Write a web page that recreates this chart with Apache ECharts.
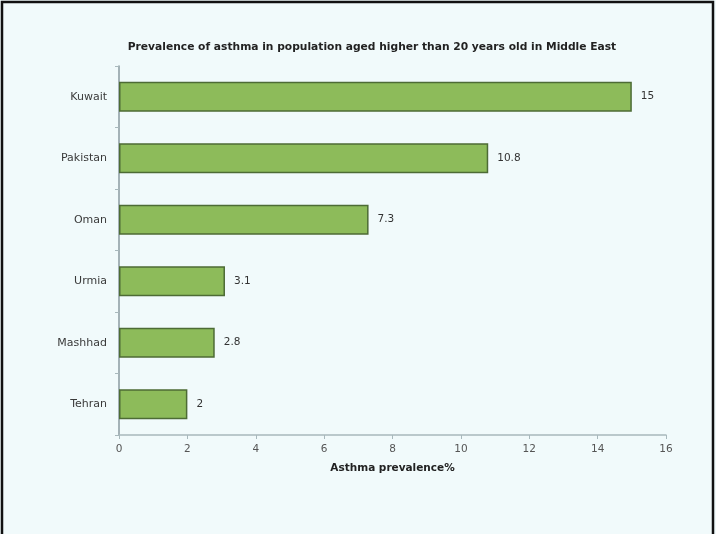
<!DOCTYPE html>
<html><head><meta charset="utf-8">
<script src="https://cdn.jsdelivr.net/npm/echarts@6/dist/echarts.min.js"></script>
<style>html,body{margin:0;padding:0;background:#f1fafb;}#c{width:716px;height:534px;}</style>
</head><body><div id="c"></div>
<script>
const categories = ['Tehran', 'Mashhad', 'Urmia', 'Oman', 'Pakistan', 'Kuwait'];
const values = [2, 2.8, 3.1, 7.3, 10.8, 15];
const xTicks = [0, 2, 4, 6, 8, 10, 12, 14, 16];

const chart = echarts.init(document.getElementById('c'), null, {renderer: 'canvas'});
chart.setOption({
  backgroundColor: '#f1fafb',
  animation: false,
  title: {
    text: 'Prevalence of asthma in population aged higher than 20 years old in Middle East',
    left: 367, top: 37, textAlign: 'center',
    textStyle: {fontFamily: 'DejaVu Sans', fontSize: 10.7, fontWeight: 'bold', color: '#222'}
  },
  graphic: [{
    type: 'polyline', silent: true,
    shape: {points: [[2, 534], [2, 2], [713, 2], [713, 534]]},
    style: {stroke: '#111', lineWidth: 2.5, fill: null}
  }],
  grid: {left: 119, top: 66, width: 547, height: 369, containLabel: false},
  xAxis: {
    type: 'value', min: xTicks[0], max: xTicks[xTicks.length - 1], interval: 2,
    name: 'Asthma prevalence%', nameLocation: 'middle', nameGap: 28,
    nameTextStyle: {fontFamily: 'DejaVu Sans', fontSize: 10.5, fontWeight: 'bold', color: '#222'},
    axisLine: {show: true, lineStyle: {color: '#a8b8bc', width: 1.5}},
    axisTick: {show: true, length: 4, lineStyle: {color: '#a8b8bc'}},
    splitLine: {show: false},
    axisLabel: {fontFamily: 'DejaVu Sans', fontSize: 10.5, color: '#555', margin: 9}
  },
  yAxis: {
    type: 'category', data: categories,
    axisLine: {show: true, lineStyle: {color: '#8a9aa0', width: 1.5}},
    axisTick: {show: true, length: 4, lineStyle: {color: '#a8b8bc'}},
    axisLabel: {fontFamily: 'DejaVu Sans', fontSize: 11, color: '#3a3a3a', margin: 12}
  },
  series: [{
    type: 'bar', data: values, barWidth: 30,
    itemStyle: {color: '#8dbb5a', borderColor: '#4d6b35', borderWidth: 1.5},
    label: {show: true, position: 'right', distance: 9, fontFamily: 'DejaVu Sans', fontSize: 10.5, color: '#333'}
  }]
});
</script></body></html>
